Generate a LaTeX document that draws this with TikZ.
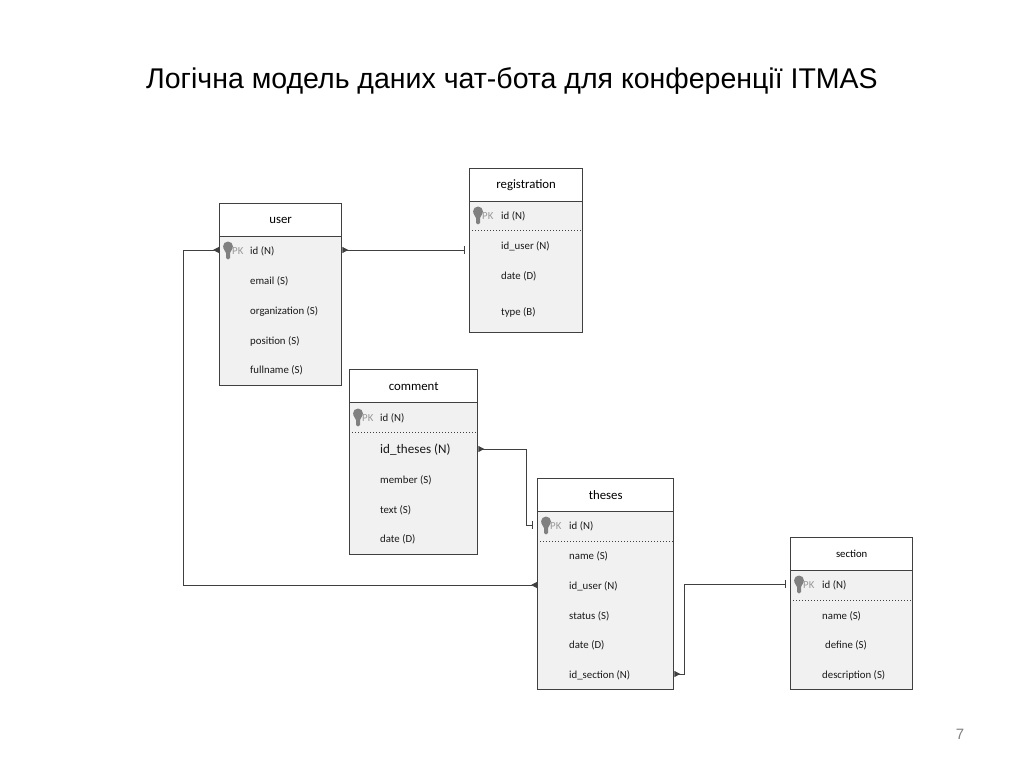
\documentclass[tikz,border=0pt]{standalone}
\usepackage{fontspec}
\setmainfont{Carlito}
\newfontfamily\titlefont{Liberation Sans}
\usetikzlibrary{calc,arrows.meta}
\definecolor{linegray}{HTML}{404040}
\definecolor{bodygray}{HTML}{F1F1F1}
\definecolor{keygray}{HTML}{808080}
\definecolor{pkgray}{HTML}{989898}
\tikzset{
  headbox/.style={draw=linegray, line width=1.3pt, fill=white, anchor=north west, inner sep=0pt, font=\fontsize{12.8}{15}\selectfont},
  bodybox/.style={draw=linegray, line width=1.3pt, fill=bodygray, anchor=north west, inner sep=0pt},
  rowtext/.style={anchor=west, inner sep=0pt, text height=11pt, text depth=3pt, text=black!90, font=\fontsize{10.8}{12}\selectfont},
  pktext/.style={anchor=west, inner sep=0pt, text height=11pt, text depth=3pt, text=pkgray, font=\fontsize{10.8}{12}\selectfont},
  pkline/.style={draw=linegray, line width=1pt, dotted},
  conn/.style={draw=linegray, line width=1pt},
  manyone/.style={{Stealth[inset=0pt,reversed,length=6pt,width=6pt]}-{Bar[width=8pt,length=1.3pt,sep=4pt]}},
  manymany/.style={{Stealth[inset=0pt,reversed,length=6pt,width=6pt]}-{Stealth[inset=0pt,reversed,length=6pt,width=6pt]}},
  keypk/.pic={
    \fill[keygray] (0,-3.5) circle (5);
    \fill[keygray] (-4.6,-2) -- (4.6,-2) -- (2,3) -- (2,8) -- (0,9.5) -- (-2,8) -- (-2,3) -- cycle;
  }
}
\begin{document}
\begin{tikzpicture}[x=1pt,y=-1pt]
\useasboundingbox (0,0) rectangle (1024,767);

% Title and page number
\node (title) at (512,81) {\titlefont\fontsize{28.5}{32}\selectfont Логічна модель даних чат-бота для конференції ITMAS};
\node[text=gray] (pagenum) at (960,734) {\titlefont\fontsize{15}{17}\selectfont 7};

% user
\node[bodybox, minimum width=122pt, minimum height=182pt] (userbody) at (219,203) {};
\node[headbox, minimum width=122pt, minimum height=33pt] (userhead) at (219,203) {user};
\draw[pkline] (219,236) -- (341,236);
\pic at (228,250) {keypk};
\node[pktext] (userpk) at (232,250) {PK};
\foreach \nm/\y/\txt in {userid/250/id (N), useremail/280/email (S), userorg/310/organization (S), userpos/340/position (S), username/369/fullname (S)}
  \node[rowtext] (\nm) at (250,\y) {\txt};

% registration
\node[bodybox, minimum width=113pt, minimum height=164pt] (regbody) at (469,168) {};
\node[headbox, minimum width=113pt, minimum height=33pt] (reghead) at (469,168) {registration};
\draw[pkline] (469,231) -- (582,231);
\pic at (478,215) {keypk};
\node[pktext] (regpk) at (482,215) {PK};
\foreach \nm/\y/\txt in {regid/215/id (N), reguser/245/id\_user (N), regdate/275/date (D), regtype/311/type (B)}
  \node[rowtext] (\nm) at (501,\y) {\txt};

% comment
\node[bodybox, minimum width=128pt, minimum height=185pt] (combody) at (349,369) {};
\node[headbox, minimum width=128pt, minimum height=33pt] (comhead) at (349,369) {comment};
\draw[pkline] (349,432) -- (477,432);
\pic at (358,417) {keypk};
\node[pktext] (compk) at (362,417) {PK};
\foreach \nm/\y/\txt in {comid/417/id (N), commember/479/member (S), comtext/509/text (S), comdate/538/date (D)}
  \node[rowtext] (\nm) at (380,\y) {\txt};
\node[rowtext, font=\fontsize{13.1}{15}\selectfont] (comthes) at (380,449) {id\_theses (N)};

% theses
\node[bodybox, minimum width=136pt, minimum height=211pt] (thesbody) at (537,478) {};
\node[headbox, minimum width=136pt, minimum height=33pt] (theshead) at (537,478) {theses};
\draw[pkline] (537,541) -- (673,541);
\pic at (546,525) {keypk};
\node[pktext] (thespk) at (550,525) {PK};
\foreach \nm/\y/\txt in {thesid/525/id (N), thesname/555/name (S), thesuser/585/id\_user (N), thesstatus/615/status (S), thesdate/644/date (D), thessec/674/id\_section (N)}
  \node[rowtext] (\nm) at (569,\y) {\txt};

% section
\node[bodybox, minimum width=122pt, minimum height=152pt] (secbody) at (790,537) {};
\node[headbox, minimum width=122pt, minimum height=33pt, font=\fontsize{10.7}{12}\selectfont] (sechead) at (790,537) {section};
\draw[pkline] (790,600) -- (912,600);
\pic at (799,584) {keypk};
\node[pktext] (secpk) at (803,584) {PK};
\foreach \nm/\y/\txt in {secid/584/id (N), secname/615/name (S), secdesc/674/description (S)}
  \node[rowtext] (\nm) at (822,\y) {\txt};
\node[rowtext] (secdef) at (825,644) {define (S)};

% Connectors
\coordinate (leftbus) at (183,400);
\coordinate (comturn) at (526,480);
\coordinate (secturn) at (684,630);
\draw[conn, manyone] (userid -| userbody.east) -- (userid -| regbody.west);
\draw[conn, manymany] (userid -| userbody.west) -- (userid -| leftbus) -- (thesuser -| leftbus) -- (thesuser -| thesbody.west);
\draw[conn, manyone] (comthes -| combody.east) -- (comthes -| comturn) -- (thesid -| comturn) -- (thesid -| thesbody.west);
\draw[conn, manyone] (thessec -| thesbody.east) -- (thessec -| secturn) -- (secid -| secturn) -- (secid -| secbody.west);
\end{tikzpicture}
\end{document}
